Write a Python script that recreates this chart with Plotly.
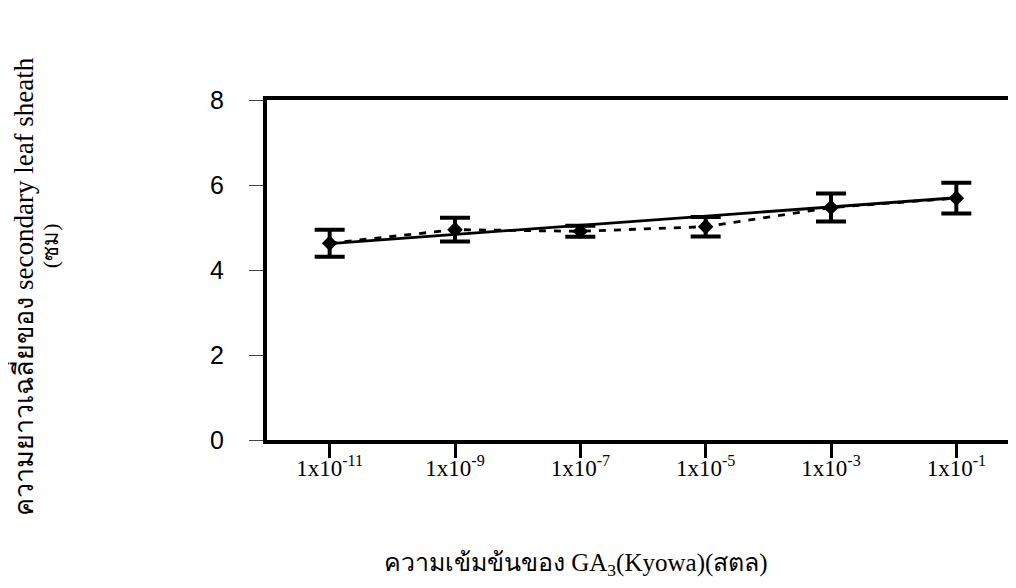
import plotly.graph_objects as go

# Data
categories = ["1x10<sup>-11</sup>", "1x10<sup>-9</sup>", "1x10<sup>-7</sup>",
              "1x10<sup>-5</sup>", "1x10<sup>-3</sup>", "1x10<sup>-1</sup>"]
x_pos = [0, 1, 2, 3, 4, 5]
mean_length = [4.63, 4.95, 4.91, 5.02, 5.47, 5.69]
err = [0.32, 0.28, 0.13, 0.23, 0.33, 0.36]
trend_x = [0, 5]
trend_y = [4.62, 5.70]
y_ticks = [0, 2, 4, 6, 8]

W, H = 1016, 588
L, R, T, B = 259, 1, 92, 156
PW, PH = W - L - R, H - T - B


def px(xp):
    return (xp - L) / PW


def py(yp):
    return (H - B - yp) / PH


fig = go.Figure()

# solid regression line
fig.add_trace(go.Scatter(
    x=trend_x, y=trend_y, mode="lines",
    line=dict(color="black", width=2.8), hoverinfo="skip", showlegend=False))

# mean values with error bars, dashed connector
fig.add_trace(go.Scatter(
    x=x_pos, y=mean_length, mode="lines+markers",
    line=dict(color="black", width=2.8, dash="7px,8px"),
    marker=dict(symbol="diamond", size=12, color="black"),
    error_y=dict(type="data", array=err, visible=True, color="black",
                 thickness=4, width=15),
    showlegend=False))

fig.update_layout(
    width=W, height=H,
    margin=dict(l=L, r=R, t=T, b=B),
    paper_bgcolor="white", plot_bgcolor="white",
    xaxis=dict(
        range=[-0.5, 5.5], tickmode="array", tickvals=x_pos, ticktext=categories,
        showgrid=False, zeroline=False,
        showline=True, linecolor="black", linewidth=4, mirror=True,
        ticks="outside", ticklen=14, tickwidth=3, tickcolor="black",
        tickfont=dict(family="Liberation Serif, Times New Roman, serif", size=23, color="black"),
        ticklabelstandoff=-10,
    ),
    yaxis=dict(
        range=[0, 8], tickmode="array", tickvals=y_ticks,
        showgrid=False, zeroline=False,
        showline=True, linecolor="black", linewidth=4, mirror=True,
        ticks="outside", ticklen=14, tickwidth=1, tickcolor="#444444",
        tickfont=dict(family="Liberation Sans, Arial, sans-serif", size=25, color="black"),
        ticklabelstandoff=20,
    ),
    annotations=[
        dict(text="ความเข้มข้นของ GA<sub>3</sub>(Kyowa)(สตล)",
             xref="paper", yref="paper", x=px(570), y=py(556),
             xanchor="center", yanchor="middle", showarrow=False,
             font=dict(family="Liberation Serif, Times New Roman, serif", size=25, color="black")),
        dict(text="ความยาวเฉลี่ยของ secondary leaf sheath",
             xref="paper", yref="paper", x=px(12.5), y=py(278),
             xanchor="center", yanchor="middle", textangle=-90, showarrow=False,
             font=dict(family="Liberation Serif, Times New Roman, serif", size=27, color="black")),
        dict(text="(ซม)",
             xref="paper", yref="paper", x=px(41), y=py(238),
             xanchor="center", yanchor="middle", textangle=-90, showarrow=False,
             font=dict(family="Liberation Serif, Times New Roman, serif", size=22, color="black")),
    ],
)

fig.write_html("out.html")
